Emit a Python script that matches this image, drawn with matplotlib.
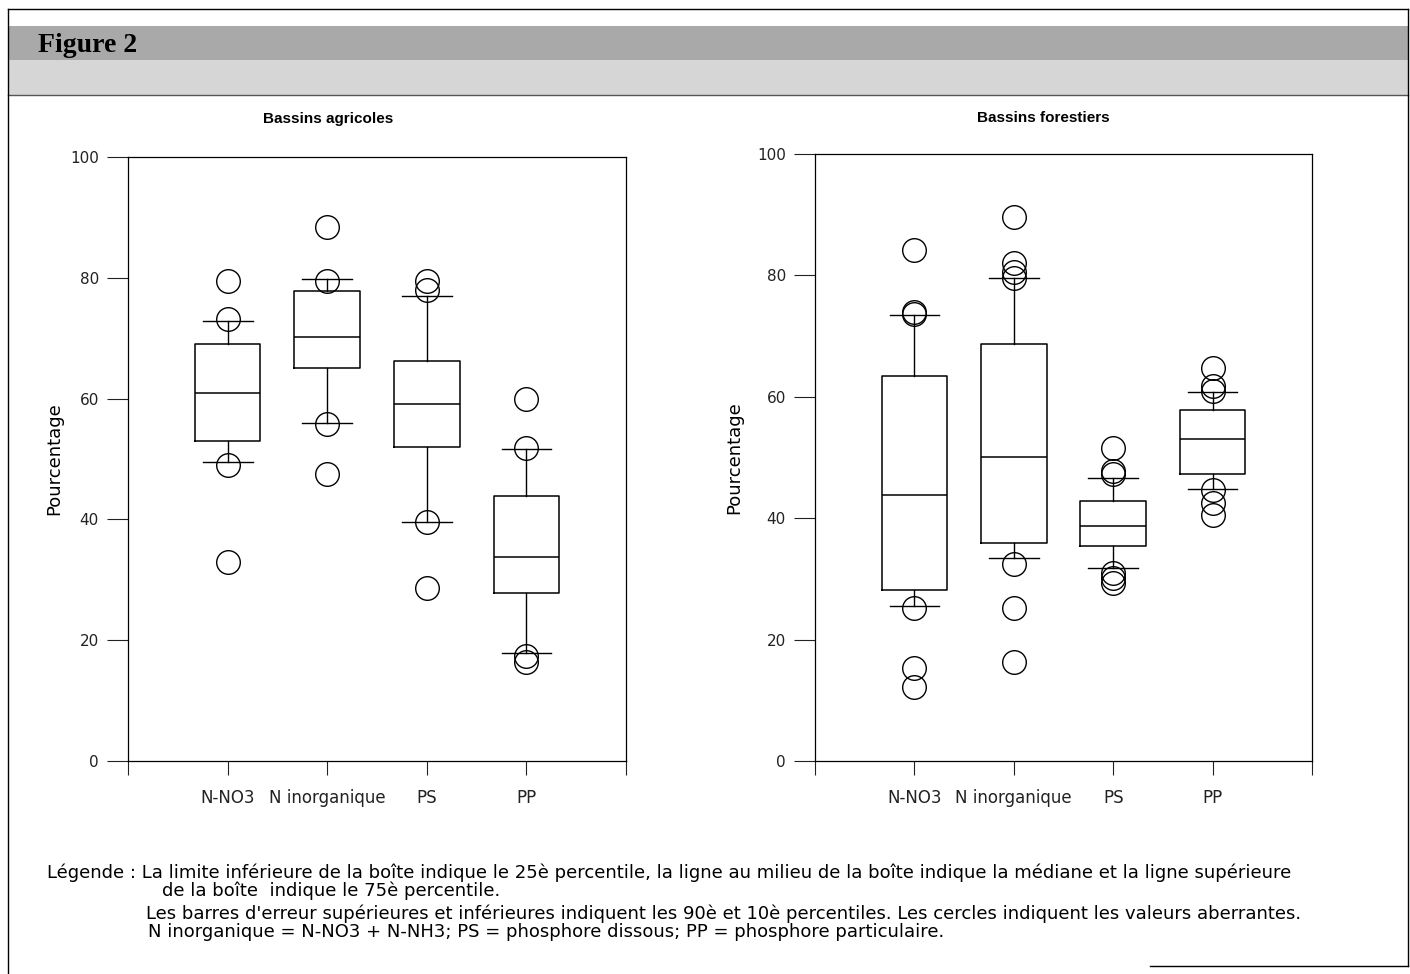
import numpy as np
import matplotlib
matplotlib.use("Agg")
import matplotlib.pyplot as plt
from matplotlib.patches import Rectangle

plt.rcParams['font.family'] = ['DejaVu Sans']

# categories
categories = ["N-NO3", "N inorganique", "PS", "PP"]

# Bassins agricoles : 10e, 25e, médiane, 75e, 90e percentiles + valeurs aberrantes
agri_p10 = [49.5, 56.0, 39.5, 17.9]
agri_q1 = [53.0, 65.0, 52.0, 27.8]
agri_med = [61.0, 70.2, 59.1, 33.7]
agri_q3 = [69.0, 77.8, 66.2, 43.9]
agri_p90 = [72.8, 79.8, 77.0, 51.6]
agri_out = [[79.5, 73.2, 49.0, 33.0],
            [88.4, 79.5, 55.8, 47.5],
            [79.5, 78.0, 39.5, 28.6],
            [59.9, 51.8, 17.3, 16.4]]

# Bassins forestiers
fore_p10 = [25.6, 33.4, 31.8, 44.8]
fore_q1 = [28.2, 35.9, 35.4, 47.3]
fore_med = [43.8, 50.0, 38.7, 53.0]
fore_q3 = [63.4, 68.7, 42.9, 57.8]
fore_p90 = [73.5, 79.5, 46.6, 60.8]
fore_out = [[84.2, 74.0, 73.6, 25.2, 15.3, 12.2],
            [89.7, 82.0, 80.5, 79.6, 32.4, 25.2, 16.3],
            [51.5, 47.8, 47.3, 31.0, 30.1, 29.3],
            [64.7, 61.7, 61.0, 44.6, 42.5, 40.5]]

legend_lines = [
    "Légende : La limite inférieure de la boîte indique le 25è percentile, la ligne au milieu de la boîte indique la médiane et la ligne supérieure",
    "de la boîte  indique le 75è percentile.",
    "Les barres d'erreur supérieures et inférieures indiquent les 90è et 10è percentiles. Les cercles indiquent les valeurs aberrantes.",
    "N inorganique = N-NO3 + N-NH3; PS = phosphore dissous; PP = phosphore particulaire.",
]

fig = plt.figure(figsize=(14.1, 9.74), dpi=100)

# fond / cadre en coordonnées pixels
bg = fig.add_axes([0, 0, 1, 1], zorder=-1)
bg.set_xlim(0, 1410)
bg.set_ylim(974, 0)
bg.axis('off')
bg.add_patch(Rectangle((8, 26), 1400, 34, color='#a9a9a9', lw=0))
bg.add_patch(Rectangle((8, 60), 1400, 35, color='#d6d6d6', lw=0))
bg.plot([8, 1408], [9, 9], color='black', lw=1)
bg.plot([8, 1408], [95, 95], color='#555555', lw=1)
bg.plot([8, 8], [9, 974], color='black', lw=1)
bg.plot([1408, 1408], [9, 966], color='black', lw=1)
bg.plot([1150, 1408], [966, 966], color='black', lw=1)
bg.text(38, 46, "Figure 2", fontsize=20, fontweight='bold',
        family=['Liberation Serif', 'DejaVu Serif'], va='center', ha='left')


def draw_panel(ax, p10, q1, med, q3, p90, outliers):
    stats = []
    for i in range(len(categories)):
        stats.append(dict(med=med[i], q1=q1[i], q3=q3[i],
                          whislo=p10[i], whishi=p90[i], fliers=outliers[i]))
    ax.bxp(stats, positions=[1, 2, 3, 4], widths=0.66, capwidths=0.5,
           boxprops=dict(color='black', lw=1.1),
           medianprops=dict(color='black', lw=1.1),
           whiskerprops=dict(color='black', lw=1.0),
           capprops=dict(color='black', lw=1.0),
           flierprops=dict(marker='o', markersize=17, markerfacecolor='none',
                           markeredgecolor='black', markeredgewidth=1.0))
    ax.set_xlim(0, 5)
    ax.set_ylim(0, 100)
    ax.set_xticks([0, 1, 2, 3, 4, 5])
    ax.set_xticklabels([""] + categories + [""])
    ax.set_yticks([0, 20, 40, 60, 80, 100])
    ax.tick_params(axis='y', direction='out', length=15, width=0.8, pad=6,
                   labelsize=11, colors='#222222')
    ax.tick_params(axis='x', direction='out', length=10, width=0.8, pad=10,
                   labelsize=12, colors='#222222')
    for s in ax.spines.values():
        s.set_linewidth(0.9)
    ax.set_ylabel("Pourcentage", fontsize=13, labelpad=5)


ax1 = fig.add_axes([0.0908, 0.2187, 0.3532, 0.6201])
draw_panel(ax1, agri_p10, agri_q1, agri_med, agri_q3, agri_p90, agri_out)
ax2 = fig.add_axes([0.578, 0.2187, 0.3525, 0.6232])
draw_panel(ax2, fore_p10, fore_q1, fore_med, fore_q3, fore_p90, fore_out)
ax2.yaxis.labelpad = 10

fig.text(328 / 1410, 1 - 119 / 974, "Bassins agricoles", fontsize=11,
         fontweight='bold', ha='center', va='center',
         family=['Liberation Sans', 'DejaVu Sans'])
fig.text(1043 / 1410, 1 - 118 / 974, "Bassins forestiers", fontsize=11,
         fontweight='bold', ha='center', va='center',
         family=['Liberation Sans', 'DejaVu Sans'])

legend_x = [47, 162, 146, 148]
legend_y = [873, 891, 914, 932]
for txt, lx, ly in zip(legend_lines, legend_x, legend_y):
    fig.text(lx / 1410, 1 - ly / 974, txt, fontsize=13, ha='left', va='center')

fig.savefig("out.png", dpi=100)
